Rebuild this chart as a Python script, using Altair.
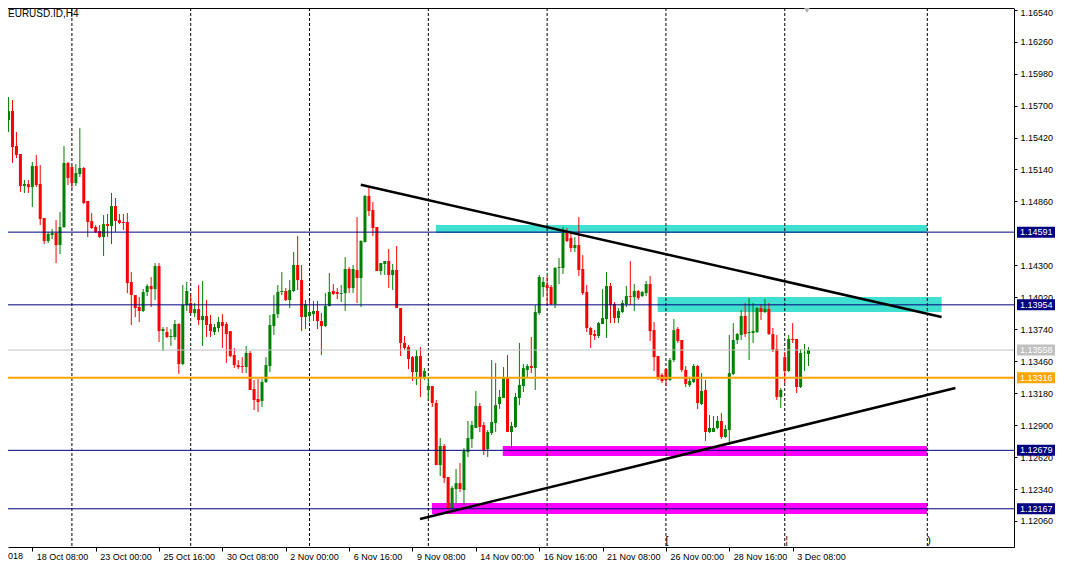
import json
import altair as alt
import pandas as pd

# ---------------- data ----------------
FIRST_BAR = -7  # bar index of the first (partly hidden) candle; bar 0 = 18 Oct 08:00

OPEN = [
    1.15766, 1.15573, 1.15652, 1.15346, 1.15276, 1.14995, 1.15013, 1.14986, 1.15171, 1.15013,
    1.14715, 1.14513, 1.14566, 1.14584, 1.14478, 1.14636, 1.15197, 1.15162, 1.15021, 1.15100,
    1.15153, 1.14864, 1.14688, 1.14636, 1.14601, 1.14548, 1.14662, 1.14645, 1.14820, 1.14697,
    1.14680, 1.14680, 1.14154, 1.14040, 1.13935, 1.13900, 1.14066, 1.14119, 1.14092, 1.14294,
    1.13724, 1.13716, 1.13672, 1.13672, 1.13786, 1.13435, 1.13952, 1.13970, 1.13882, 1.13917,
    1.13821, 1.13856, 1.13786, 1.13716, 1.13751, 1.13803, 1.13786, 1.13724, 1.13514, 1.13426,
    1.13418, 1.13409, 1.13532, 1.13216, 1.13129, 1.13111, 1.13278, 1.13418, 1.13768, 1.13873,
    1.14066, 1.14075, 1.13996, 1.14075, 1.14303, 1.14171, 1.13847, 1.13856, 1.13873, 1.13900,
    1.13812, 1.13768, 1.13944, 1.14075, 1.14066, 1.14049, 1.14057, 1.14268, 1.14101, 1.14259,
    1.14189, 1.14504, 1.14908, 1.14785, 1.14636, 1.14250, 1.14312, 1.14338, 1.14215, 1.14259,
    1.13926, 1.13620, 1.13584, 1.13496, 1.13365, 1.13505, 1.13313, 1.13208, 1.13243, 1.13094,
    1.12550, 1.12717, 1.12445, 1.12165, 1.12340, 1.12392, 1.12331, 1.12664, 1.12778, 1.12875,
    1.13067, 1.12901, 1.12690, 1.12831, 1.12919, 1.13085, 1.13138, 1.13313, 1.12840, 1.12884,
    1.13138, 1.13243, 1.13383, 1.13418, 1.13400, 1.13882, 1.14110, 1.14128, 1.14110, 1.13961,
    1.14277, 1.14277, 1.14584, 1.14540, 1.14452, 1.14478, 1.14268, 1.14066, 1.13751, 1.13698,
    1.13681, 1.13786, 1.13829, 1.14119, 1.13961, 1.13838, 1.13891, 1.13961, 1.14031, 1.14023,
    1.14075, 1.14031, 1.14057, 1.14136, 1.13733, 1.13505, 1.13339, 1.13391, 1.13295, 1.13470,
    1.13742, 1.13646, 1.13383, 1.13251, 1.13278, 1.13418, 1.13085, 1.13208, 1.12840, 1.12840,
    1.12875, 1.12936, 1.12796, 1.12857, 1.13347, 1.13646, 1.13690, 1.13856, 1.13707, 1.13707,
    1.13716, 1.13926, 1.13891, 1.13917, 1.13698, 1.13567, 1.13146, 1.13496, 1.13374, 1.13655,
    1.13655, 1.13234, 1.13530, 1.13523,
]
HIGH = [
    1.15784, 1.15775, 1.15749, 1.15468, 1.15276, 1.15048, 1.15048, 1.15206, 1.15267, 1.15179,
    1.14715, 1.14592, 1.14619, 1.14697, 1.14767, 1.15346, 1.15206, 1.15179, 1.15188, 1.15503,
    1.15162, 1.14864, 1.14758, 1.14653, 1.14653, 1.14741, 1.14750, 1.14934, 1.14890, 1.14750,
    1.14750, 1.14758, 1.14241, 1.14040, 1.14023, 1.14092, 1.14136, 1.14198, 1.14320, 1.14320,
    1.13759, 1.13759, 1.13742, 1.13821, 1.13794, 1.14128, 1.14154, 1.14040, 1.13970, 1.14128,
    1.14162, 1.13996, 1.13865, 1.13786, 1.13847, 1.13873, 1.13803, 1.13724, 1.13576, 1.13470,
    1.13496, 1.13593, 1.13549, 1.13295, 1.13304, 1.13304, 1.13496, 1.13865, 1.14040, 1.14128,
    1.14241, 1.14101, 1.14171, 1.14417, 1.14557, 1.14303, 1.13996, 1.13988, 1.13988, 1.13988,
    1.13882, 1.14057, 1.14233, 1.14136, 1.14101, 1.14128, 1.14373, 1.14285, 1.14303, 1.14723,
    1.14520, 1.14916, 1.14986, 1.14855, 1.14636, 1.14320, 1.14338, 1.14443, 1.14312, 1.14469,
    1.13926, 1.13681, 1.13602, 1.13505, 1.13558, 1.13584, 1.13400, 1.13313, 1.13243, 1.13120,
    1.12787, 1.12734, 1.12445, 1.12366, 1.12515, 1.12568, 1.12699, 1.12936, 1.12936, 1.13199,
    1.13094, 1.12928, 1.12857, 1.13470, 1.13444, 1.13208, 1.13409, 1.13514, 1.12928, 1.13181,
    1.13620, 1.13435, 1.13435, 1.13672, 1.13952, 1.14215, 1.14198, 1.14206, 1.14128, 1.14285,
    1.14364, 1.14636, 1.14627, 1.14584, 1.14548, 1.14723, 1.14390, 1.14128, 1.13759, 1.13733,
    1.13803, 1.14092, 1.14241, 1.14145, 1.13979, 1.13926, 1.13996, 1.14119, 1.14338, 1.14136,
    1.14084, 1.14075, 1.14162, 1.14206, 1.13803, 1.13505, 1.13356, 1.13400, 1.13488, 1.13829,
    1.13759, 1.13646, 1.13418, 1.13322, 1.13435, 1.13426, 1.13356, 1.13295, 1.12989, 1.12980,
    1.12980, 1.13006, 1.12901, 1.13690, 1.13794, 1.13707, 1.13909, 1.13970, 1.14014, 1.13970,
    1.13935, 1.13961, 1.14005, 1.13970, 1.13751, 1.13690, 1.13225, 1.13540, 1.13690, 1.13794,
    1.13655, 1.13567, 1.13611, 1.13584,
]
LOW = [
    1.15565, 1.15468, 1.15197, 1.15240, 1.14943, 1.14934, 1.14934, 1.14811, 1.14986, 1.14653,
    1.14487, 1.14496, 1.14531, 1.14320, 1.14399, 1.14627, 1.15004, 1.14969, 1.14995, 1.15074,
    1.14837, 1.14548, 1.14619, 1.14584, 1.14540, 1.14382, 1.14548, 1.14487, 1.14592, 1.14662,
    1.14610, 1.14057, 1.13777, 1.13847, 1.13803, 1.13891, 1.14031, 1.13935, 1.13996, 1.13628,
    1.13549, 1.13663, 1.13593, 1.13646, 1.13348, 1.13426, 1.13900, 1.13882, 1.13847, 1.13777,
    1.13593, 1.13672, 1.13672, 1.13690, 1.13716, 1.13576, 1.13444, 1.13496, 1.13400, 1.13391,
    1.13356, 1.13356, 1.13208, 1.13032, 1.13015, 1.13059, 1.13269, 1.13365, 1.13690, 1.13838,
    1.14040, 1.13988, 1.13926, 1.14066, 1.14084, 1.13724, 1.13742, 1.13803, 1.13812, 1.13742,
    1.13514, 1.13760, 1.13940, 1.14040, 1.14005, 1.13979, 1.13900, 1.14057, 1.14057, 1.13970,
    1.13935, 1.14500, 1.14732, 1.14557, 1.14250, 1.14215, 1.14215, 1.14101, 1.14084, 1.13926,
    1.13505, 1.13558, 1.13391, 1.13287, 1.13251, 1.13146, 1.13295, 1.13120, 1.13059, 1.12550,
    1.12454, 1.12392, 1.12156, 1.12147, 1.12217, 1.12314, 1.12200, 1.12620, 1.12699, 1.12875,
    1.12840, 1.12638, 1.12620, 1.12813, 1.12840, 1.13041, 1.13138, 1.12840, 1.12699, 1.12875,
    1.13076, 1.13190, 1.13313, 1.13356, 1.13208, 1.13865, 1.14023, 1.13952, 1.13952, 1.13926,
    1.14136, 1.14224, 1.14504, 1.14417, 1.14417, 1.14206, 1.14040, 1.13716, 1.13576, 1.13646,
    1.13663, 1.13786, 1.13663, 1.13794, 1.13794, 1.13794, 1.13882, 1.13935, 1.13952, 1.13900,
    1.13996, 1.14023, 1.14031, 1.13637, 1.13374, 1.13295, 1.13269, 1.13243, 1.13287, 1.13453,
    1.13620, 1.13365, 1.13234, 1.13234, 1.13269, 1.13041, 1.13076, 1.12761, 1.12831, 1.12840,
    1.12866, 1.12778, 1.12787, 1.12725, 1.13339, 1.13611, 1.13646, 1.13672, 1.13470, 1.13620,
    1.13707, 1.13821, 1.13882, 1.13690, 1.13540, 1.13120, 1.13050, 1.13269, 1.13365, 1.13620,
    1.13181, 1.13225, 1.13374, 1.13418,
]
CLOSE = [
    1.15582, 1.15652, 1.15337, 1.15267, 1.14995, 1.15013, 1.14986, 1.15171, 1.15004, 1.14706,
    1.14513, 1.14575, 1.14584, 1.14478, 1.14636, 1.15197, 1.15065, 1.15021, 1.15109, 1.15153,
    1.14846, 1.14680, 1.14627, 1.14592, 1.14548, 1.14662, 1.14645, 1.14820, 1.14688, 1.14671,
    1.14671, 1.14145, 1.14040, 1.13926, 1.13900, 1.14066, 1.14119, 1.14092, 1.14294, 1.13724,
    1.13742, 1.13672, 1.13681, 1.13786, 1.13435, 1.13952, 1.14075, 1.13882, 1.13917, 1.13821,
    1.13856, 1.13777, 1.13724, 1.13759, 1.13803, 1.13768, 1.13698, 1.13505, 1.13426, 1.13409,
    1.13409, 1.13532, 1.13208, 1.13120, 1.13102, 1.13278, 1.13426, 1.13777, 1.13873, 1.14066,
    1.14075, 1.13996, 1.14084, 1.14303, 1.14171, 1.13847, 1.13961, 1.13891, 1.13900, 1.13812,
    1.13768, 1.13944, 1.14066, 1.14049, 1.14049, 1.14057, 1.14268, 1.14101, 1.14268, 1.14189,
    1.14513, 1.14908, 1.14776, 1.14627, 1.14250, 1.14320, 1.14338, 1.14215, 1.14259, 1.13926,
    1.13620, 1.13576, 1.13479, 1.13365, 1.13505, 1.13313, 1.13374, 1.13243, 1.13094, 1.12550,
    1.12717, 1.12436, 1.12165, 1.12349, 1.12392, 1.12340, 1.12673, 1.12787, 1.12901, 1.13067,
    1.12884, 1.12682, 1.12840, 1.12928, 1.13076, 1.13146, 1.13313, 1.12840, 1.12892, 1.13146,
    1.13251, 1.13400, 1.13418, 1.13400, 1.13891, 1.14198, 1.14154, 1.14101, 1.13961, 1.14277,
    1.14285, 1.14584, 1.14513, 1.14452, 1.14478, 1.14259, 1.14057, 1.13751, 1.13690, 1.13681,
    1.13794, 1.13838, 1.14119, 1.13952, 1.13838, 1.13900, 1.13970, 1.14031, 1.14023, 1.14075,
    1.14014, 1.14066, 1.14136, 1.13724, 1.13496, 1.13313, 1.13287, 1.13295, 1.13470, 1.13733,
    1.13637, 1.13383, 1.13260, 1.13287, 1.13418, 1.13094, 1.13199, 1.12840, 1.12875, 1.12875,
    1.12936, 1.12796, 1.12866, 1.13356, 1.13646, 1.13698, 1.13856, 1.13698, 1.13716, 1.13724,
    1.13926, 1.13891, 1.13917, 1.13698, 1.13558, 1.13146, 1.13208, 1.13374, 1.13655, 1.13646,
    1.13234, 1.13532, 1.13534, 1.13558,
]

DATE_TICKS = [0, 16, 32, 48, 64, 80, 96, 112, 128, 144, 160, 176, 192]
DATE_LABELS = ["18 Oct 08:00", "23 Oct 00:00", "25 Oct 16:00", "30 Oct 08:00", "2 Nov 00:00",
               "6 Nov 16:00", "9 Nov 08:00", "14 Nov 00:00", "16 Nov 16:00", "21 Nov 08:00",
               "26 Nov 00:00", "28 Nov 16:00", "3 Dec 08:00"]
CUT_LABEL = "018"
PRICE_TICKS = [1.12060, 1.12340, 1.12620, 1.12900, 1.13180, 1.13460, 1.13740, 1.14020,
               1.14300, 1.14860, 1.15140, 1.15420, 1.15700, 1.15980, 1.16260, 1.16540]
SYMBOL = "EURUSD.ID,H4"

GRID_BARS = [10, 40, 70, 100, 130, 160, 190, 226]

LEVEL_PRICES = [1.14591, 1.13954, 1.13558, 1.13316, 1.12679, 1.12167]
LEVEL_COLORS = ["#000080", "#000080", "#C0C0C0", "#FFA500", "#000080", "#000080"]
LEVEL_WIDTHS = [1, 1, 1, 2, 1, 1]

ZONE_BAR1 = [101.9, 157.9, 118.8, 100.9]
ZONE_BAR2 = [225.9, 229.6, 225.9, 225.9]
ZONE_P1 = [1.14653, 1.14023, 1.12717, 1.12217]
ZONE_P2 = [1.14584, 1.13891, 1.12629, 1.12121]
ZONE_COLORS = ["#40E0D0", "#40E0D0", "#FF00FF", "#FF00FF"]

TREND_BAR1 = [82.95, 97.9]
TREND_P1 = [1.15007, 1.12077]
TREND_BAR2 = [229.6, 233.1]
TREND_P2 = [1.13847, 1.13225]

SHIFT_MARK_BAR = 195.6

# small glyphs drawn at the foot of some vertical lines
GLYPH_BARS = [159.9, 190.1, 226.0]
GLYPH_TEXT = ["[", "¦", ")"]

# ---------------- layout ----------------
W, H = 1006, 539
XDOM = [-4.875, 246.625]
YDOM = [1.11832, 1.16555]
FONT = "Liberation Sans"

n = len(OPEN)
assert len(HIGH) == n and len(LOW) == n and len(CLOSE) == n
candles = pd.DataFrame({
    "bar": list(range(FIRST_BAR, FIRST_BAR + n)),
    "open": OPEN, "high": HIGH, "low": LOW, "close": CLOSE,
})
candles["dir"] = ["up" if c >= o else "down" for o, c in zip(OPEN, CLOSE)]

levels = pd.DataFrame({"p": LEVEL_PRICES, "c": LEVEL_COLORS, "w": LEVEL_WIDTHS,
                       "label": [f"{p:.5f}" for p in LEVEL_PRICES]})
zones = pd.DataFrame({"b1": ZONE_BAR1, "b2": ZONE_BAR2, "p1": ZONE_P1, "p2": ZONE_P2, "c": ZONE_COLORS})
trends = pd.DataFrame({"b1": TREND_BAR1, "b2": TREND_BAR2, "p1": TREND_P1, "p2": TREND_P2})
grid = pd.DataFrame({"bar": GRID_BARS})
marker = pd.DataFrame({"bar": [SHIFT_MARK_BAR]})
glyphs = pd.DataFrame({"bar": GLYPH_BARS, "t": GLYPH_TEXT})

label_expr = ("[" + ",".join(json.dumps(s) for s in DATE_LABELS) + "][indexof("
              + json.dumps(DATE_TICKS) + ", datum.value)]")

top_tick = max(PRICE_TICKS)

xscale = alt.Scale(domain=XDOM, nice=False, zero=False)
yscale = alt.Scale(domain=YDOM, nice=False, zero=False)
xaxis = alt.Axis(values=DATE_TICKS, labelExpr=label_expr, title=None, orient="bottom", grid=False,
                 tickSize=4, labelAlign="left", labelBaseline="top", labelOffset=4, labelPadding=1,
                 labelFont=FONT, labelFontSize=9, labelColor="black", domainColor="black",
                 tickColor="black", labelOverlap=False, labelFlush=False, labelBound=False)
yaxis = alt.Axis(values=PRICE_TICKS, format=".5f", title=None, orient="right", grid=False,
                 tickSize=3, labelPadding=3, labelAlign="left", labelBaseline="middle",
                 labelOffset={"condition": {"test": f"datum.value > {top_tick - 0.0001}", "value": 3},
                              "value": 0},
                 labelFont=FONT, labelFontSize=9, labelColor="black", domainColor="black",
                 tickColor="black", labelOverlap=False, labelFlush=False, labelBound=False)


def X(f):
    return alt.X(f, type="quantitative", scale=xscale, axis=xaxis)


def Y(f):
    return alt.Y(f, type="quantitative", scale=yscale, axis=yaxis)


dir_color = alt.Color("dir:N", scale=alt.Scale(domain=["up", "down"], range=["#008000", "#FF0000"]),
                      legend=None)

zone_layer = alt.Chart(zones).mark_rect(clip=True).encode(
    x=X("b1"), x2=alt.X2("b2"), y=Y("p1"), y2=alt.Y2("p2"), color=alt.Color("c:N", scale=None))

grid_layer = alt.Chart(grid).mark_rule(color="black", strokeDash=[3, 2], strokeWidth=1).encode(
    x=X("bar"))

wick_layer = alt.Chart(candles).mark_rule(clip=True, strokeWidth=1).encode(
    x=X("bar"), y=Y("low"), y2=alt.Y2("high"), color=dir_color)

body_layer = alt.Chart(candles).mark_bar(clip=True, size=3).encode(
    x=X("bar"), y=Y("open"), y2=alt.Y2("close"), color=dir_color)

level_layer = alt.Chart(levels).mark_rule().encode(
    y=Y("p"), color=alt.Color("c:N", scale=None), strokeWidth=alt.StrokeWidth("w:Q", scale=None))

trend_layer = alt.Chart(trends).mark_rule(clip=True, color="black", strokeWidth=2.5).encode(
    x=X("b1"), x2=alt.X2("b2"), y=Y("p1"), y2=alt.Y2("p2"))

top_border = alt.Chart(marker).mark_rule(color="black", strokeWidth=1).encode(
    x=alt.value(0), x2=alt.value(W), y=alt.value(0.5))

box_layer = alt.Chart(levels).mark_rect(yOffset=-5.5, y2Offset=5.5).encode(
    x=alt.value(W + 3), x2=alt.value(W + 41), y=Y("p"), y2=alt.Y2("p"),
    color=alt.Color("c:N", scale=None))

box_text = alt.Chart(levels).mark_text(align="left", baseline="middle", font=FONT, fontSize=9,
                                       color="white").encode(
    x=alt.value(W + 6), y=Y("p"), text="label:N")

title_layer = alt.Chart(marker).mark_text(align="left", baseline="top", font=FONT, fontSize=10,
                                          color="black").encode(
    x=alt.value(0), y=alt.value(1), text=alt.value(SYMBOL))

cut_label = alt.Chart(marker).mark_text(align="left", baseline="top", font=FONT, fontSize=9,
                                        color="black").encode(
    x=alt.value(0), y=alt.value(H + 5), text=alt.value(CUT_LABEL))

shift_mark = alt.Chart(marker).mark_point(shape="triangle-down", filled=True, color="#B0B0B0",
                                          size=45, opacity=1).encode(
    x=X("bar"), y=alt.value(2))

glyph_layer = alt.Chart(glyphs).mark_text(align="left", baseline="bottom", font=FONT, fontSize=11,
                                          color="black").encode(
    x=X("bar"), y=alt.value(H - 1), text="t:N")

chart = alt.layer(
    zone_layer, grid_layer, wick_layer, body_layer, level_layer, trend_layer, top_border,
    box_layer, box_text, title_layer, cut_label, shift_mark, glyph_layer,
).properties(
    width=W, height=H,
    autosize=alt.AutoSizeParams(type="none"),
    padding={"left": 0, "top": 0, "right": 45, "bottom": 16},
    background="white",
).configure_view(strokeWidth=0)

chart.save("out.html", embed_options={"renderer": "svg", "actions": False})
